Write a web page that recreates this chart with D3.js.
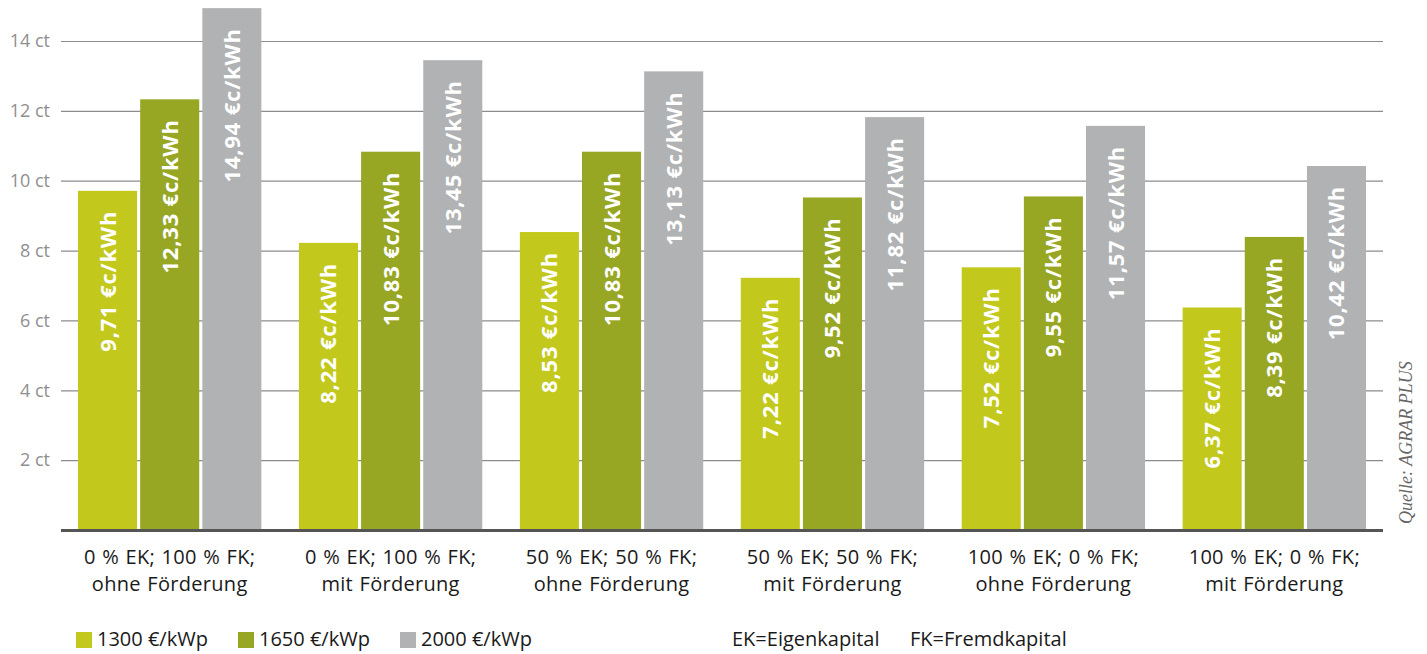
<!DOCTYPE html>
<html>
<head>
<meta charset="utf-8">
<script src="https://cdn.jsdelivr.net/npm/d3@7"></script>
<style>
  html, body { margin: 0; padding: 0; background: #fff; }
  svg { display: block; }
</style>
</head>
<body>
<svg id="chart" width="1427" height="654"></svg>
<script>
const categories = [
  ["0 % EK; 100 % FK;", "ohne Förderung"],
  ["0 % EK; 100 % FK;", "mit Förderung"],
  ["50 % EK; 50 % FK;", "ohne Förderung"],
  ["50 % EK; 50 % FK;", "mit Förderung"],
  ["100 % EK; 0 % FK;", "ohne Förderung"],
  ["100 % EK; 0 % FK;", "mit Förderung"]
];
const seriesNames = ["1300 €/kWp", "1650 €/kWp", "2000 €/kWp"];
const values1300 = [9.71, 8.22, 8.53, 7.22, 7.52, 6.37];
const values1650 = [12.33, 10.83, 10.83, 9.52, 9.55, 8.39];
const values2000 = [14.94, 13.45, 13.13, 11.82, 11.57, 10.42];
const yTicks = [2, 4, 6, 8, 10, 12, 14];
const colors = ["#c2c91c", "#97a724", "#b1b2b4"];

const seriesValues = [values1300, values1650, values2000];
const svg = d3.select("#chart");
const W = 1427, H = 654;
const x0 = 61, x1 = 1383;
const yBase = 530;
const FONT = "'Open Sans', sans-serif";

const x = d3.scaleBand().domain(d3.range(categories.length)).range([x0, x1]).paddingInner(0.17).paddingOuter(0.077);
const xs = d3.scaleBand().domain(d3.range(3)).range([0, x.bandwidth()]).paddingInner(0.05);
const y = d3.scaleLinear().domain([0, 14]).range([yBase, yBase - 14 * 34.93]);

// gridlines + y labels
const yAxis = d3.axisLeft(y).tickValues(yTicks).tickSize(-(x1 - x0)).tickFormat(d => d + " ct");
const ga = svg.append("g").attr("transform", `translate(${x0},0)`).call(yAxis);
ga.select(".domain").remove();
ga.selectAll(".tick line").attr("stroke", "#8c8c8c").attr("stroke-width", 1.2);
ga.selectAll(".tick text").attr("x", -11).attr("fill", "#8f8f8f")
  .style("font-family", FONT).style("font-size", "18px");

// bars
const groups = svg.append("g").selectAll("g").data(categories).join("g")
  .attr("transform", (d, i) => `translate(${x(i)},0)`);
groups.each(function(cat, i) {
  const g = d3.select(this);
  seriesValues.forEach((vals, s) => {
    const v = vals[i];
    const bx = xs(s), bw = xs.bandwidth();
    g.append("rect").attr("x", bx).attr("width", bw)
      .attr("y", y(v)).attr("height", y(0) - y(v)).attr("fill", colors[s]);
    const cx = bx + bw / 2;
    const ty = y(v) + 20;
    g.append("text")
      .attr("transform", `translate(${cx + 8},${ty}) rotate(-90)`)
      .attr("text-anchor", "end")
      .attr("fill", "#fff")
      .style("font-family", FONT)
      .style("font-weight", "700")
      .style("font-size", "22px")
      .style("letter-spacing", "0.8px")
      .text(v.toFixed(2).replace(".", ",") + " €c/kWh");
  });
});

// baseline
svg.append("line").attr("x1", x0).attr("x2", x1).attr("y1", y(0) + 0.5).attr("y2", y(0) + 0.5)
  .attr("stroke", "#555").attr("stroke-width", 3);

// x labels
const xl = svg.append("g");
categories.forEach((lines, i) => {
  const cx = x(i) + x.bandwidth() / 2;
  const t = xl.append("text").attr("text-anchor", "middle").attr("fill", "#1a1a1a")
    .style("font-family", FONT).style("font-size", "20px")
    .style("letter-spacing", "0.3px").style("word-spacing", "1px");
  lines.forEach((l, k) => {
    t.append("tspan").attr("x", cx).attr("y", 564 + k * 27).text(l);
  });
});

// legend
const legX = [76, 238, 400];
seriesNames.forEach((n, s) => {
  svg.append("rect").attr("x", legX[s]).attr("y", 632).attr("width", 16).attr("height", 16).attr("fill", colors[s]);
  svg.append("text").attr("x", legX[s] + 21).attr("y", 646).attr("fill", "#1a1a1a")
    .style("font-family", FONT).style("font-size", "20px").text(n);
});
svg.append("text").attr("x", 732).attr("y", 646).attr("fill", "#1a1a1a")
  .style("font-family", FONT).style("font-size", "20px").text("EK=Eigenkapital");
svg.append("text").attr("x", 910).attr("y", 646).attr("fill", "#1a1a1a")
  .style("font-family", FONT).style("font-size", "20px").text("FK=Fremdkapital");

// source
svg.append("text").attr("transform", "translate(1412,524) rotate(-90)")
  .attr("text-anchor", "start").attr("fill", "#666")
  .style("font-family", "'Liberation Serif', serif").style("font-style", "italic").style("font-size", "18px")
  .text("Quelle: AGRAR PLUS");
</script>
</body>
</html>
